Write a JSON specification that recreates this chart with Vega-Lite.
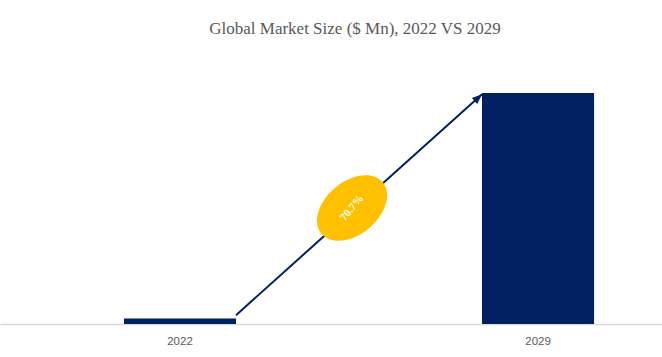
{
  "$schema": "https://vega.github.io/schema/vega-lite/v6.json",
  "width": 662,
  "height": 265,
  "padding": {"left": 0, "right": 0, "top": 20, "bottom": 0},
  "autosize": {"type": "pad"},
  "background": "white",
  "title": {
    "text": "Global Market Size ($ Mn), 2022 VS 2029",
    "font": "Liberation Serif",
    "fontSize": 17,
    "fontWeight": "normal",
    "color": "#595959",
    "anchor": "middle",
    "dx": 24,
    "offset": 21
  },
  "config": {
    "view": {"stroke": null}
  },
  "encoding": {
    "x": {
      "field": "year",
      "type": "nominal",
      "scale": {"type": "band", "paddingInner": 0.687, "paddingOuter": 0.268, "align": 0.646, "round": false},
      "axis": {
        "title": null,
        "labelAngle": 0,
        "labelFont": "Liberation Sans",
        "labelFontSize": 11.5,
        "labelColor": "#595959",
        "labelPadding": 11,
        "ticks": false,
        "domainColor": "#d9d9d9",
        "domainWidth": 1.5,
        "grid": false
      }
    }
  },
  "layer": [
    {
      "data": {"values": [{"year": "2022", "value": 14.2}, {"year": "2029", "value": 599.3}]},
      "mark": {"type": "bar", "color": "#002060"},
      "encoding": {
        "y": {"field": "value", "type": "quantitative", "scale": {"domain": [0, 687.5], "nice": false}, "axis": null}
      }
    },
    {
      "data": {"values": [{"from": "2022", "to": "2029", "start": 23, "end": 596}]},
      "mark": {"type": "rule", "color": "#002060", "strokeWidth": 2},
      "encoding": {
        "x": {"field": "from", "type": "nominal", "bandPosition": 1},
        "x2": {"field": "to", "bandPosition": 0},
        "y": {"field": "start", "type": "quantitative"},
        "y2": {"field": "end"}
      }
    },
    {
      "data": {"values": [{"year": "2029", "end": 596}]},
      "mark": {"type": "point", "shape": "M 0 0 L 0.8 2 L -0.8 2 Z", "filled": true, "color": "#002060", "opacity": 1, "size": 100, "angle": 48, "strokeWidth": 0},
      "encoding": {
        "x": {"field": "year", "type": "nominal", "bandPosition": 0},
        "y": {"field": "end", "type": "quantitative"}
      }
    },
    {
      "data": {"values": [{"year": "2022", "mid": 301, "label": "70.7%"}]},
      "mark": {"type": "point", "shape": "M -1 0 A 1 0.66 0 1 0 1 0 A 1 0.66 0 1 0 -1 0 Z", "filled": true, "color": "#FFC000", "opacity": 1, "size": 6400, "angle": -40, "strokeWidth": 0},
      "encoding": {
        "x": {"field": "year", "type": "nominal", "bandPosition": 2.036},
        "y": {"field": "mid", "type": "quantitative"}
      }
    },
    {
      "data": {"values": [{"year": "2022", "mid": 301, "label": "70.7%"}]},
      "mark": {"type": "text", "color": "white", "font": "Liberation Sans Narrow", "fontWeight": "bold", "fontSize": 11, "angle": -50, "align": "center", "baseline": "middle"},
      "encoding": {
        "x": {"field": "year", "type": "nominal", "bandPosition": 2.036},
        "y": {"field": "mid", "type": "quantitative"},
        "text": {"field": "label"}
      }
    }
  ]
}
